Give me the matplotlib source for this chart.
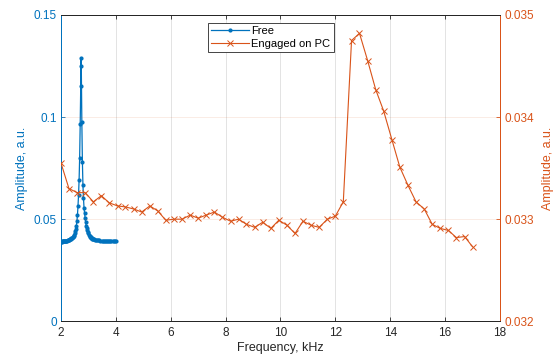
import matplotlib
matplotlib.use("Agg")
import matplotlib.pyplot as plt

# ---- data ----
free_freq = [2.00, 2.02, 2.04, 2.06, 2.08, 2.10, 2.12, 2.14, 2.16, 2.18,
             2.20, 2.22, 2.24, 2.26, 2.28, 2.30, 2.32, 2.34, 2.36, 2.38,
             2.40, 2.42, 2.44, 2.46, 2.48, 2.50, 2.52, 2.54, 2.56, 2.58,
             2.60, 2.62, 2.64, 2.66, 2.68, 2.70, 2.72, 2.73, 2.74, 2.76,
             2.78, 2.80, 2.82, 2.84, 2.86, 2.88, 2.90, 2.92, 2.94, 2.96,
             2.98, 3.00, 3.02, 3.04, 3.06, 3.08, 3.10, 3.12, 3.14, 3.16,
             3.18, 3.20, 3.24, 3.28, 3.32, 3.36, 3.40, 3.44, 3.48, 3.52,
             3.56, 3.60, 3.64, 3.68, 3.72, 3.76, 3.80, 3.84, 3.88, 3.92,
             3.96, 4.00]
free_amp = [0.0390, 0.0390, 0.0391, 0.0391, 0.0391, 0.0392, 0.0392, 0.0393, 0.0393, 0.0394,
            0.0395, 0.0395, 0.0396, 0.0397, 0.0398, 0.0399, 0.0401, 0.0402, 0.0404, 0.0406,
            0.0409, 0.0412, 0.0415, 0.0420, 0.0425, 0.0432, 0.0441, 0.0453, 0.0469, 0.0490,
            0.0520, 0.0565, 0.0620, 0.0692, 0.0800, 0.0965, 0.1150, 0.1288, 0.1252, 0.0977,
            0.0782, 0.0667, 0.0602, 0.0555, 0.0529, 0.0505, 0.0485, 0.0467, 0.0455, 0.0445,
            0.0437, 0.0430, 0.0424, 0.0419, 0.0415, 0.0412, 0.0409, 0.0407, 0.0405, 0.0403,
            0.0402, 0.0401, 0.0399, 0.0398, 0.0397, 0.0396, 0.0396, 0.0395, 0.0395, 0.0394,
            0.0394, 0.0394, 0.0393, 0.0393, 0.0393, 0.0393, 0.0392, 0.0392, 0.0392, 0.0392,
            0.0392, 0.0392]

pc_freq = [2.00, 2.29, 2.59, 2.88, 3.18, 3.47, 3.76, 4.06, 4.35, 4.65,
           4.94, 5.24, 5.53, 5.82, 6.12, 6.41, 6.71, 7.00, 7.29, 7.59,
           7.88, 8.18, 8.47, 8.76, 9.06, 9.35, 9.65, 9.94, 10.24, 10.53,
           10.82, 11.12, 11.41, 11.71, 12.00, 12.29, 12.59, 12.88, 13.18, 13.47,
           13.76, 14.06, 14.35, 14.65, 14.94, 15.24, 15.53, 15.82, 16.12, 16.41,
           16.71, 17.00]
pc_amp = [0.03355, 0.03330, 0.03326, 0.03326, 0.03317, 0.03323, 0.03316, 0.03313, 0.03312, 0.03310,
          0.03307, 0.03313, 0.03308, 0.03299, 0.03300, 0.03300, 0.03304, 0.03301, 0.03304, 0.03307,
          0.03302, 0.03298, 0.03300, 0.03295, 0.03292, 0.03297, 0.03291, 0.03299, 0.03294, 0.03286,
          0.03298, 0.03294, 0.03292, 0.03300, 0.03303, 0.03317, 0.03475, 0.03482, 0.03455, 0.03427,
          0.03406, 0.03378, 0.03351, 0.03333, 0.03317, 0.03310, 0.03295, 0.03291, 0.03289, 0.03282,
          0.03283, 0.03273]

series_labels = ["Free", "Engaged on PC"]
x_ticks = [2, 4, 6, 8, 10, 12, 14, 16, 18]
left_ticks = [0, 0.05, 0.1, 0.15]
left_tick_labels = ["0", "0.05", "0.1", "0.15"]
right_ticks = [0.032, 0.033, 0.034, 0.035]
right_tick_labels = ["0.032", "0.033", "0.034", "0.035"]

# ---- style ----
BLUE = "#0072BD"
ORANGE = "#D95319"
DARK = "#262626"
plt.rcParams["font.family"] = ["Liberation Sans", "DejaVu Sans"]
plt.rcParams["font.size"] = 8.5

fig = plt.figure(figsize=(5.58, 3.61), dpi=100)
ax = fig.add_axes([0.1093, 0.110, 0.7867, 0.8485])
ax2 = ax.twinx()

l1, = ax.plot(free_freq, free_amp, color=BLUE, lw=0.9, marker=".", ms=4, zorder=3)
l2, = ax2.plot(pc_freq, pc_amp, color=ORANGE, lw=0.8, marker="x", ms=4, mew=0.7, zorder=3)

ax.set_xlim(2, 18)
ax.set_ylim(0, 0.15)
ax2.set_ylim(0.032, 0.035)

ax.set_xticks(x_ticks)
ax.set_xticklabels([str(t) for t in x_ticks])
ax.set_yticks(left_ticks)
ax.set_yticklabels(left_tick_labels)
ax2.set_yticks(right_ticks)
ax2.set_yticklabels(right_tick_labels)

ax.tick_params(axis="x", direction="in", length=3, width=0.6, colors=DARK, top=True, pad=4)
ax.tick_params(axis="y", direction="in", length=3, width=0.6, colors=BLUE, labelcolor=BLUE, pad=3)
ax2.tick_params(axis="y", direction="in", length=3, width=0.6, colors=ORANGE, labelcolor=ORANGE, pad=3)

ax.grid(axis="x", color="#c8c8c8", alpha=0.6, lw=0.6)
ax2.grid(axis="y", color=ORANGE, alpha=0.13, lw=0.6)
ax.set_axisbelow(True)

for a in (ax, ax2):
    a.spines["top"].set_color(DARK)
    a.spines["bottom"].set_color(DARK)
    a.spines["left"].set_color(BLUE)
    a.spines["right"].set_color(ORANGE)
    for s in a.spines.values():
        s.set_linewidth(0.7)

ax.set_xlabel("Frequency, kHz", color=DARK, fontsize=9, labelpad=2)
ax.set_ylabel("Amplitude, a.u.", color=BLUE, fontsize=9, labelpad=4)
ax2.set_ylabel("Amplitude, a.u.", color=ORANGE, fontsize=9, labelpad=6)

leg = ax2.legend([l1, l2], series_labels, loc="upper left",
                 bbox_to_anchor=(0.335, 0.975), borderaxespad=0.0,
                 fancybox=False, framealpha=1,
                 edgecolor=DARK, fontsize=8, handlelength=3.4, borderpad=0.3,
                 labelspacing=0.25, handletextpad=0.2)
leg.get_frame().set_linewidth(0.6)

fig.savefig("out.png", dpi=100)
